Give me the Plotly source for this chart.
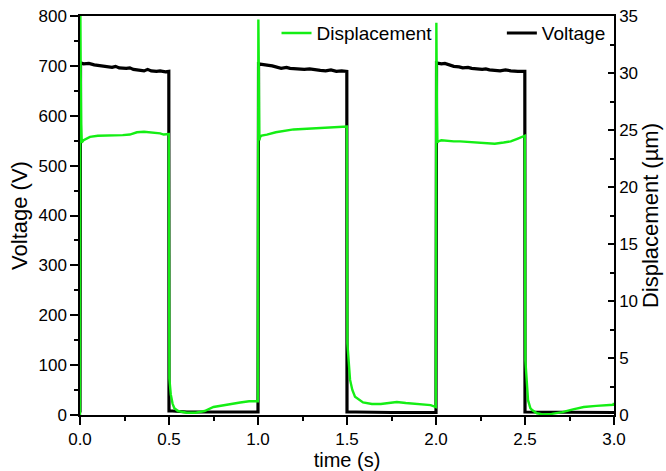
import plotly.graph_objects as go

# ---------------- data ----------------
volt_t = [0.000, 0.003, 0.02, 0.05, 0.08, 0.10, 0.13, 0.15, 0.18, 0.20, 0.22, 0.26, 0.28, 0.30, 0.33, 0.36, 0.38, 0.40, 0.43, 0.45, 0.48, 0.499,
          0.500, 0.52, 0.60, 0.70, 0.80, 0.90, 0.999,
          1.000, 1.003, 1.03, 1.06, 1.08, 1.10, 1.13, 1.16, 1.18, 1.22, 1.26, 1.29, 1.32, 1.35, 1.38, 1.41, 1.44, 1.47, 1.499,
          1.500, 1.55, 1.65, 1.75, 1.85, 1.95, 1.999,
          2.000, 2.003, 2.03, 2.05, 2.07, 2.10, 2.13, 2.15, 2.18, 2.20, 2.23, 2.26, 2.28, 2.30, 2.33, 2.36, 2.39, 2.42, 2.46, 2.499,
          2.500, 2.55, 2.65, 2.75, 2.85, 2.95, 3.0]
volt_v = [5, 706, 704, 705, 702, 701, 700, 699, 697, 699, 696, 695, 696, 693, 692, 690, 693, 690, 689, 690, 688, 689,
          8, 8, 6, 6, 6, 6, 6,
          6, 704, 702, 701, 700, 698, 695, 697, 695, 694, 693, 694, 692, 691, 690, 692, 689, 690, 689,
          6, 6, 5, 5, 5, 5, 5,
          5, 706, 704, 705, 702, 699, 698, 696, 697, 695, 694, 693, 694, 692, 691, 690, 692, 690, 689, 689,
          6, 6, 5, 5, 5, 5, 5]

disp_t = [0.000, 0.002, 0.004, 0.007, 0.010, 0.02, 0.056, 0.10, 0.17, 0.24, 0.28, 0.32, 0.36, 0.41, 0.45, 0.47, 0.499,
          0.502, 0.505, 0.51, 0.52, 0.53, 0.55, 0.60, 0.65, 0.70, 0.75, 0.80, 0.85, 0.90, 0.95, 0.99, 0.999,
          1.002, 1.005, 1.008, 1.012, 1.02, 1.05, 1.10, 1.20, 1.30, 1.40, 1.499,
          1.502, 1.51, 1.517, 1.53, 1.545, 1.59, 1.64, 1.69, 1.74, 1.78, 1.83, 1.90, 1.97, 1.999,
          2.002, 2.005, 2.008, 2.012, 2.03, 2.06, 2.10, 2.135, 2.20, 2.27, 2.33, 2.38, 2.42, 2.46, 2.499,
          2.502, 2.51, 2.517, 2.53, 2.54, 2.567, 2.60, 2.65, 2.71, 2.77, 2.83, 2.90, 2.96, 2.995, 3.0]
disp_v = [0.0, 35.5, 30.0, 25.5, 23.9, 24.1, 24.4, 24.5, 24.5, 24.55, 24.6, 24.8, 24.85, 24.8, 24.7, 24.6, 24.65,
          3.2, 2.6, 1.8, 1.0, 0.6, 0.35, 0.2, 0.2, 0.35, 0.7, 0.85, 0.95, 1.1, 1.2, 1.15, 1.2,
          34.7, 27.0, 24.1, 24.4, 24.5, 24.6, 24.8, 25.05, 25.15, 25.25, 25.3,
          6.3, 4.0, 3.1, 2.2, 1.6, 1.1, 0.97, 0.96, 1.05, 1.14, 1.05, 0.95, 0.87, 0.7,
          34.4, 27.0, 23.9, 24.0, 24.1, 24.05, 24.0, 24.0, 23.95, 23.85, 23.8, 23.9, 24.0, 24.25, 24.5,
          4.8, 2.5, 1.3, 0.6, 0.44, 0.15, 0.05, 0.1, 0.25, 0.5, 0.7, 0.8, 0.85, 0.9, 1.05]

x_ticks = [0.0, 0.5, 1.0, 1.5, 2.0, 2.5, 3.0]
x_tick_labels = ["0.0", "0.5", "1.0", "1.5", "2.0", "2.5", "3.0"]

FONT = "Liberation Sans, Arial, sans-serif"
GREEN = "rgb(20,238,20)"

fig = go.Figure()
fig.add_trace(go.Scatter(x=volt_t, y=volt_v, mode="lines", name="Voltage", showlegend=True,
                         line=dict(color="black", width=3.2), legend="legend2", yaxis="y"))
fig.add_trace(go.Scatter(x=disp_t, y=disp_v, mode="lines", name="Displacement", showlegend=True,
                         line=dict(color=GREEN, width=2.4), legend="legend", yaxis="y2"))

axis_common = dict(showline=True, linecolor="black", linewidth=1.5, showgrid=False, zeroline=False,
                   automargin=False,
                   tickcolor="black", tickwidth=1.5, tickfont=dict(size=17, color="black", family=FONT))

fig.update_layout(
    width=666, height=471,
    margin=dict(l=80, r=52, t=16, b=56),
    paper_bgcolor="white", plot_bgcolor="white",
    font=dict(family=FONT, color="black"),
    showlegend=True,
    xaxis=dict(range=[0, 3], tickvals=x_ticks, ticktext=x_tick_labels, ticks="outside", ticklen=8,
               minor=dict(ticks="outside", ticklen=4, dtick=0.25, tickcolor="black", tickwidth=1.5),
               mirror=True, title=dict(text="time (s)", font=dict(size=20), standoff=3), **axis_common),
    yaxis=dict(range=[0, 800], dtick=100, ticks="outside", ticklen=8,
               minor=dict(ticks="outside", ticklen=4, dtick=50, tickcolor="black", tickwidth=1.5),
               title=dict(text="Voltage (V)", font=dict(size=22), standoff=5), **axis_common),
    yaxis2=dict(range=[0, 35], dtick=5, ticks="inside", ticklen=6, overlaying="y", side="right",
                minor=dict(ticks="inside", ticklen=4, dtick=2.5, tickcolor="black", tickwidth=1.5),
                title=dict(text="Displacement (µm)", font=dict(size=22), standoff=4), **axis_common),
    legend=dict(x=0.368, y=0.957, xanchor="left", yanchor="middle", bgcolor="rgba(0,0,0,0)",
                font=dict(size=19, family=FONT), borderwidth=0),
    legend2=dict(x=0.79, y=0.957, xanchor="left", yanchor="middle", bgcolor="rgba(0,0,0,0)",
                 font=dict(size=19, family=FONT), borderwidth=0),
)

fig.write_html("out.html", config={"displayModeBar": False},
               post_script="document.body.style.margin='0';document.body.style.overflow='hidden';")
